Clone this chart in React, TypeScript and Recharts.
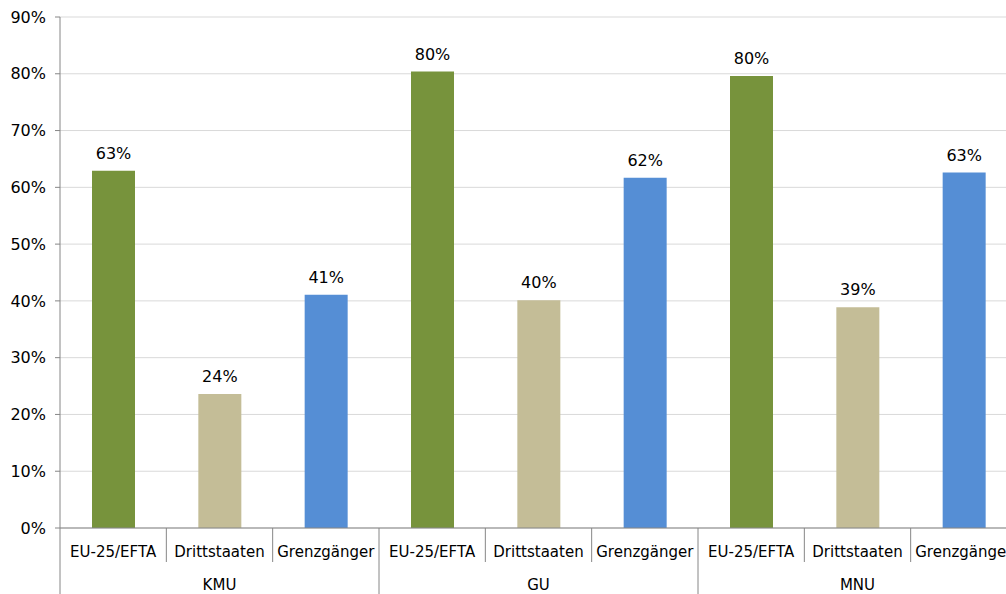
import React from 'react';
import { BarChart, Bar, XAxis, YAxis, CartesianGrid, Cell, LabelList } from 'recharts';

const GROUPS = ['KMU', 'GU', 'MNU'];
const CATEGORIES = ['EU-25/EFTA', 'Drittstaaten', 'Grenzgänger'];
const KMU_VALUES = [62.9, 23.6, 41.1];
const GU_VALUES = [80.4, 40.1, 61.7];
const MNU_VALUES = [79.6, 38.9, 62.6];
const Y_TICKS = [0, 10, 20, 30, 40, 50, 60, 70, 80, 90];
const COLORS = ['#77933C', '#C4BD97', '#558ED5'];

const FONT = '"DejaVu Sans", Tahoma, sans-serif';
const CHART_W = 1017;
const CHART_H = 594;
const Y_AXIS_W = 60;
const PLOT_W = CHART_W - Y_AXIS_W;
const AXIS_COLOR = '#868686';

const groupValues = [KMU_VALUES, GU_VALUES, MNU_VALUES];
const data = GROUPS.flatMap((g, gi) =>
  CATEGORIES.map((c, ci) => ({ label: c, group: g, value: groupValues[gi][ci], color: COLORS[ci] })),
);

const CAT_W = PLOT_W / data.length;

const CategoryTick = ({ x, y, payload }: any) => {
  const i = payload.index;
  const left = x - CAT_W / 2;
  const first = i % CATEGORIES.length === 0;
  const middle = i % CATEGORIES.length === 1;
  return (
    <g>
      <line x1={left} y1={y} x2={left} y2={first ? CHART_H : y + 34} stroke={AXIS_COLOR} strokeWidth={1} />
      <text x={x} y={y + 29} textAnchor="middle" fontSize={15} fontFamily={FONT} fill="#000">
        {payload.value}
      </text>
      {middle && (
        <text x={x} y={y + 62} textAnchor="middle" fontSize={15} fontFamily={FONT} fill="#000">
          {data[i].group}
        </text>
      )}
    </g>
  );
};

export default function App() {
  return (
    <div style={{ position: 'absolute', left: 0, top: 0, width: 1006, height: 594, overflow: 'hidden', background: '#fff' }}>
      <BarChart
        width={CHART_W}
        height={CHART_H}
        data={data}
        margin={{ top: 17, right: 0, bottom: 0, left: 0 }}
        barSize={43}
      >
        <CartesianGrid vertical={false} stroke="#D9D9D9" />
        <YAxis
          width={Y_AXIS_W}
          domain={[0, 90]}
          ticks={Y_TICKS}
          tickFormatter={(v) => `${v}%`}
          axisLine={{ stroke: AXIS_COLOR }}
          tickLine={{ stroke: AXIS_COLOR }}
          tickSize={5}
          tickMargin={9}
          tick={{ fontSize: 16, fontFamily: FONT, fill: '#000' }}
          interval={0}
        />
        <XAxis
          dataKey="label"
          height={CHART_H - 17 - 511}
          axisLine={{ stroke: AXIS_COLOR }}
          tickLine={false}
          tickSize={0}
          tickMargin={0}
          interval={0}
          tick={<CategoryTick />}
        />
        <Bar dataKey="value" isAnimationActive={false}>
          {data.map((d, i) => (
            <Cell key={i} fill={d.color} />
          ))}
          <LabelList
            dataKey="value"
            position="top"
            offset={12}
            formatter={(v: any) => `${Math.round(Number(v))}%`}
            style={{ fontSize: 16, fontFamily: FONT, fill: '#000' }}
          />
        </Bar>
      </BarChart>
    </div>
  );
}
